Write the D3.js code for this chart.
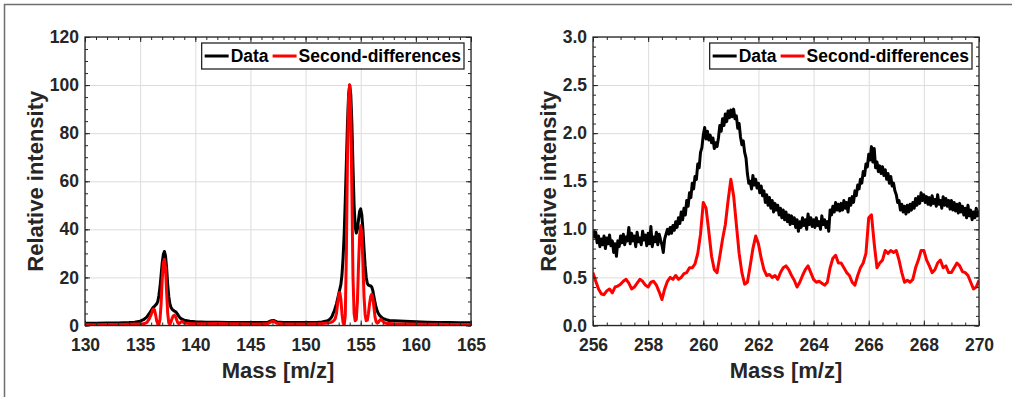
<!DOCTYPE html>
<html>
<head>
<meta charset="utf-8">
<script src="https://cdn.jsdelivr.net/npm/d3@7"></script>
<style>
  body { margin: 0; background: #fff; }
  svg { display: block; }
</style>
</head>
<body>
<div id="chart"></div>
<script>
// ---- left panel: m/z 130-165 ----
const massLeft = [
  130, 131, 132, 133, 134, 134.5, 135, 135.3, 135.6, 135.8,
  136.0, 136.1, 136.2, 136.3, 136.4, 136.5, 136.6, 136.7, 136.8, 136.9,
  137.0, 137.1, 137.2, 137.3, 137.4, 137.5, 137.6, 137.7, 137.8, 137.9,
  138.0, 138.1, 138.2, 138.3, 138.4, 138.5, 138.6, 138.7, 138.8, 138.9, 139.0,
  139.5, 140, 141, 142, 143, 144, 145, 146, 146.6, 146.9, 147.1, 147.4, 148, 149, 150, 151, 151.5, 152,
  152.2, 152.3, 152.4, 152.5, 152.6, 152.7, 152.8, 152.9,
  153.0, 153.1, 153.2, 153.3, 153.4, 153.5, 153.6, 153.7, 153.8, 153.9,
  154.0, 154.1, 154.2, 154.3, 154.4, 154.5, 154.6, 154.7, 154.8, 154.9,
  155.0, 155.1, 155.2, 155.3, 155.4, 155.5, 155.6, 155.7, 155.8, 155.9,
  156.0, 156.1, 156.2, 156.3, 156.4, 156.5, 156.6, 156.7, 156.8, 156.9,
  157.0, 157.1, 157.2, 157.3, 157.4, 157.5, 157.6,
  158, 159, 160, 161, 162, 163, 164, 165
];
const dataLeft = [
  0.9, 0.9, 1.0, 1.0, 1.2, 1.4, 1.8, 2.4, 3.5, 4.8,
  6.2, 7.0, 7.6, 8.0, 8.5, 9.0, 10.0, 12.5, 16, 21,
  26, 29.5, 30.8, 29, 24, 17, 12, 9, 7.5, 6.8,
  6.3, 6.0, 5.8, 5.3, 4.6, 3.9, 3.3, 2.9, 2.6, 2.4, 2.2,
  1.8, 1.6, 1.4, 1.4, 1.3, 1.3, 1.2, 1.2, 1.4, 2.0, 2.1, 1.5, 1.3, 1.2, 1.2, 1.3, 1.5, 2.0,
  2.6, 3.1, 3.8, 5.0, 6.0, 7.5, 9.0, 11,
  13, 15, 17, 21, 28, 38, 52, 68, 84, 96,
  100, 96, 84, 66, 50, 41, 38.5, 40, 44, 47.5,
  48.5, 46, 40, 32, 25, 20, 17.5, 16.8, 16.5, 16.5,
  16, 14.5, 12, 9.5, 7.5, 6.0, 5.0, 4.3, 3.8, 3.4,
  3.0, 2.8, 2.6, 2.4, 2.3, 2.2, 2.1,
  2.0, 1.8, 1.6, 1.4, 1.3, 1.2, 1.1, 1.1
];
const secondDiffLeft = [
  0.3, 0.3, 0.4, 0.4, 0.5, 0.6, 0.6, 0.7, 1.2, 2.5,
  4.5, 6.0, 6.8, 6.5, 4.5, 2.0, 0.6, 0.4, 2.5, 9,
  19, 26, 27.5, 24, 14, 5, 1.0, 0.6, 1.5, 3.0,
  4.0, 4.3, 3.8, 2.5, 1.2, 0.8, 1.0, 1.5, 1.7, 1.4, 1.0,
  0.8, 0.7, 0.7, 0.8, 0.7, 0.7, 0.6, 0.6, 0.8, 1.6, 1.8, 0.9, 0.6, 0.6, 0.6, 0.7, 0.8, 1.0,
  1.2, 1.3, 1.5, 1.8, 2.2, 3.0, 5.0, 9.0,
  12.5, 13.8, 11, 5, 1.2, 0.3, 4, 30, 70, 95,
  100, 88, 55, 20, 5, 2.0, 2.5, 10, 25, 37,
  41.5, 38, 26, 12, 4.5, 2.0, 2.2, 5, 9, 12,
  13, 11.5, 7.5, 3.5, 1.5, 1.0, 1.3, 2.0, 2.5, 2.3,
  1.8, 1.4, 1.0, 0.9, 0.8, 0.8, 0.8,
  0.7, 0.6, 0.6, 0.5, 0.5, 0.4, 0.4, 0.4
];
const xTicksLeft = [130, 135, 140, 145, 150, 155, 160, 165];
const yTicksLeft = [0, 20, 40, 60, 80, 100, 120];

// ---- right panel: m/z 256-270 ----
// data sampled every 0.05, second differences every 0.1
const dataRight = [
  1.00, 0.92, 0.97, 0.86, 0.93, 0.82, 0.90, 0.84, 0.93, 0.80, 0.91, 0.85, 0.94, 0.83, 0.88, 0.76, 0.85, 0.72, 0.88, 0.82,
  0.93, 0.86, 0.95, 0.84, 0.92, 0.88, 1.02, 0.85, 0.96, 0.88, 0.93, 0.82, 0.97, 0.87, 0.91, 0.84, 0.98, 0.89, 0.94, 0.83,
  0.96, 0.85, 1.03, 0.82, 0.92, 0.87, 0.97, 0.84, 0.95, 0.89, 0.84, 0.76, 0.90, 0.95, 1.00, 0.95, 1.02, 0.96, 1.04, 0.99,
  1.08, 1.02, 1.12, 1.06, 1.18, 1.10, 1.22, 1.15, 1.30, 1.24, 1.38, 1.33, 1.48, 1.42, 1.55, 1.52, 1.68, 1.64, 1.80, 1.85,
  1.98, 2.06, 1.94, 2.02, 1.93, 1.98, 1.90, 1.95, 1.84, 1.90, 1.86, 1.95, 2.08, 2.02, 2.15, 2.08, 2.20, 2.12, 2.23, 2.16,
  2.24, 2.17, 2.25, 2.15, 2.18, 2.05, 2.10, 1.96, 1.88, 1.92, 1.80, 1.74, 1.58, 1.48, 1.50, 1.42, 1.56, 1.46, 1.52, 1.43,
  1.48, 1.38, 1.45, 1.35, 1.40, 1.28, 1.36, 1.25, 1.33, 1.22, 1.30, 1.18, 1.27, 1.20, 1.25, 1.15, 1.22, 1.12, 1.20, 1.10,
  1.18, 1.08, 1.15, 1.05, 1.14, 1.06, 1.12, 1.02, 1.10, 0.98, 1.08, 1.02, 1.12, 1.04, 1.10, 1.00, 1.16, 1.05, 1.12, 1.03,
  1.10, 1.02, 1.12, 1.04, 1.08, 1.00, 1.14, 1.05, 1.10, 1.02, 1.08, 0.98, 1.20, 1.15, 1.24, 1.18, 1.28, 1.20, 1.26, 1.19,
  1.27, 1.20, 1.30, 1.22, 1.28, 1.18, 1.32, 1.25, 1.34, 1.28, 1.40, 1.35, 1.46, 1.42, 1.52, 1.48, 1.60, 1.56, 1.68, 1.65,
  1.78, 1.72, 1.86, 1.70, 1.84, 1.64, 1.70, 1.60, 1.66, 1.58, 1.65, 1.56, 1.62, 1.52, 1.58, 1.48, 1.55, 1.45, 1.48, 1.40,
  1.36, 1.28, 1.30, 1.20, 1.26, 1.18, 1.24, 1.16, 1.25, 1.18, 1.26, 1.20, 1.28, 1.22, 1.32, 1.25, 1.34, 1.27, 1.38, 1.30,
  1.36, 1.28, 1.34, 1.26, 1.33, 1.25, 1.35, 1.27, 1.31, 1.24, 1.36, 1.26, 1.30, 1.22, 1.34, 1.25, 1.32, 1.24, 1.30, 1.21,
  1.30, 1.20, 1.28, 1.19, 1.26, 1.17, 1.27, 1.18, 1.24, 1.15, 1.22, 1.12, 1.25, 1.14, 1.20, 1.10, 1.18, 1.12, 1.22, 1.14,
  1.20
];
const secondDiffRight = [
  0.55, 0.46, 0.38, 0.33, 0.32, 0.36, 0.38, 0.34, 0.40, 0.41,
  0.43, 0.46, 0.48, 0.44, 0.38, 0.40, 0.44, 0.48, 0.46, 0.42,
  0.40, 0.45, 0.46, 0.42, 0.35, 0.27, 0.38, 0.46, 0.50, 0.48,
  0.52, 0.48, 0.50, 0.54, 0.55, 0.60, 0.60, 0.64, 0.75, 0.95,
  1.28, 1.22, 0.98, 0.72, 0.58, 0.55, 0.72, 0.90, 1.05, 1.30,
  1.52, 1.35, 1.05, 0.75, 0.55, 0.43, 0.45, 0.62, 0.80, 0.93,
  0.85, 0.70, 0.58, 0.52, 0.53, 0.50, 0.52, 0.48, 0.55, 0.60,
  0.62, 0.58, 0.52, 0.47, 0.40, 0.45, 0.52, 0.58, 0.62, 0.55,
  0.48, 0.45, 0.46, 0.44, 0.42, 0.45, 0.60, 0.70, 0.73, 0.65,
  0.65, 0.60, 0.55, 0.52, 0.45, 0.42, 0.52, 0.60, 0.65, 0.75,
  1.12, 1.15, 0.85, 0.60, 0.65, 0.68, 0.78, 0.75, 0.78, 0.76,
  0.78, 0.68, 0.55, 0.45, 0.47, 0.45, 0.48, 0.60, 0.68, 0.78,
  0.78, 0.68, 0.62, 0.55, 0.58, 0.65, 0.68, 0.60, 0.62, 0.55,
  0.55, 0.60, 0.65, 0.62, 0.56, 0.55, 0.52, 0.45, 0.38, 0.40,
  0.47
];
const massRightData = dataRight.map((d, i) => 256 + i * 0.05);
const massRightSD = secondDiffRight.map((d, i) => 256 + i * 0.1);
const xTicksRight = [256, 258, 260, 262, 264, 266, 268, 270];
const yTicksRight = [0, 0.5, 1.0, 1.5, 2.0, 2.5, 3.0];

const seriesNames = ["Data", "Second-differences"];
const seriesColors = ["#000000", "#ff0000"];

const FONT = '"Liberation Sans", Arial, Helvetica, sans-serif';
const INK = "#262626";

const svg = d3.select("#chart").append("svg")
  .attr("width", 1015)
  .attr("height", 397)
  .attr("font-family", FONT)
  .attr("font-weight", "bold");

// figure frame (top and left edges visible)
svg.append("path")
  .attr("d", "M4.5,397V4.5H1012")
  .attr("fill", "none")
  .attr("stroke", "#6e6e6e")
  .attr("stroke-width", 1.5);

function panel(o) {
  const x = d3.scaleLinear().domain(o.xDomain).range([o.left, o.right]);
  const y = d3.scaleLinear().domain(o.yDomain).range([o.bottom, o.top]);
  const h = o.bottom - o.top;
  const w = o.right - o.left;
  const g = svg.append("g");

  // grid
  g.append("g")
    .attr("transform", `translate(0,${o.bottom})`)
    .call(d3.axisBottom(x).tickValues(o.xTicks).tickSize(-h).tickFormat(""))
    .call(s => s.select(".domain").remove())
    .call(s => s.selectAll("line").attr("stroke", "#dcdcdc"));
  g.append("g")
    .attr("transform", `translate(${o.left},0)`)
    .call(d3.axisLeft(y).tickValues(o.yTicks).tickSize(-w).tickFormat(""))
    .call(s => s.select(".domain").remove())
    .call(s => s.selectAll("line").attr("stroke", "#dcdcdc"));

  // lines
  const clipId = "clip" + o.id;
  svg.append("clipPath").attr("id", clipId)
    .append("rect").attr("x", o.left).attr("y", o.top).attr("width", w).attr("height", h);
  const lines = g.append("g").attr("clip-path", `url(#${clipId})`);
  o.series.forEach((s, i) => {
    const pts = s.mass.map((m, k) => [m, s.values[k]]);
    lines.append("path")
      .datum(pts)
      .attr("fill", "none")
      .attr("stroke", seriesColors[i])
      .attr("stroke-width", 3)
      .attr("stroke-linejoin", "round")
      .attr("d", d3.line().x(d => x(d[0])).y(d => y(d[1])));
  });

  // ticks (inward, mirrored) + minor ticks
  const styleAxis = s => {
    s.select(".domain").remove();
    s.selectAll("line").attr("stroke", INK);
    s.attr("font-family", FONT).attr("font-size", 17.5).attr("font-weight", "bold");
    s.selectAll("text").attr("fill", INK);
  };
  g.append("g").attr("transform", `translate(0,${o.bottom})`)
    .call(d3.axisBottom(x).tickValues(o.xTicks).tickSizeInner(-5).tickSizeOuter(0).tickPadding(13).tickFormat(o.xFormat))
    .call(styleAxis);
  g.append("g").attr("transform", `translate(0,${o.top})`)
    .call(d3.axisTop(x).tickValues(o.xTicks).tickSizeInner(-5).tickSizeOuter(0).tickFormat(""))
    .call(styleAxis);
  g.append("g").attr("transform", `translate(${o.left},0)`)
    .call(d3.axisLeft(y).tickValues(o.yTicks).tickSizeInner(-5).tickSizeOuter(0).tickPadding(6).tickFormat(o.yFormat))
    .call(styleAxis);
  g.append("g").attr("transform", `translate(${o.right},0)`)
    .call(d3.axisRight(y).tickValues(o.yTicks).tickSizeInner(-5).tickSizeOuter(0).tickFormat(""))
    .call(styleAxis);
  g.append("g").attr("transform", `translate(0,${o.bottom})`)
    .call(d3.axisBottom(x).tickValues(o.xMinor).tickSize(-3).tickFormat("")).call(styleAxis);
  g.append("g").attr("transform", `translate(0,${o.top})`)
    .call(d3.axisTop(x).tickValues(o.xMinor).tickSize(-3).tickFormat("")).call(styleAxis);
  g.append("g").attr("transform", `translate(${o.left},0)`)
    .call(d3.axisLeft(y).tickValues(o.yMinor).tickSize(-3).tickFormat("")).call(styleAxis);
  g.append("g").attr("transform", `translate(${o.right},0)`)
    .call(d3.axisRight(y).tickValues(o.yMinor).tickSize(-3).tickFormat("")).call(styleAxis);

  // box
  g.append("rect")
    .attr("x", o.left).attr("y", o.top).attr("width", w).attr("height", h)
    .attr("fill", "none").attr("stroke", INK).attr("stroke-width", 1.3);

  // axis labels
  g.append("text")
    .attr("x", (o.left + o.right) / 2).attr("y", 378)
    .attr("text-anchor", "middle").attr("font-size", 22).attr("fill", INK)
    .text("Mass [m/z]");
  g.append("text")
    .attr("transform", `translate(${o.yLabelX},${(o.top + o.bottom) / 2}) rotate(-90)`)
    .attr("text-anchor", "middle").attr("font-size", 22).attr("fill", INK)
    .text("Relative intensity");

  // legend
  const lg = g.append("g");
  const box = lg.append("rect").attr("fill", "#fff").attr("stroke", INK).attr("stroke-width", 1.3);
  let cx = 3;
  const items = [];
  seriesNames.forEach((name, i) => {
    lg.append("line").attr("x1", cx).attr("x2", cx + 24).attr("y1", 13).attr("y2", 13)
      .attr("stroke", seriesColors[i]).attr("stroke-width", 3);
    const t = lg.append("text").attr("x", cx + 26).attr("y", 19).attr("font-size", 17.5)
      .attr("fill", "#000").text(name);
    cx += 26 + t.node().getComputedTextLength() + 4;
  });
  const lw = cx - 1;
  box.attr("x", 0).attr("y", 0).attr("width", lw).attr("height", 26);
  lg.attr("transform", `translate(${o.right - 7 - lw},${o.top + 6})`);
}

panel({
  id: "L", left: 85, right: 471, top: 37, bottom: 325.5,
  xDomain: [130, 165], yDomain: [0, 120],
  xTicks: xTicksLeft, yTicks: yTicksLeft,
  xMinor: d3.range(130, 166, 1), yMinor: d3.range(0, 121, 5),
  xFormat: d3.format("d"), yFormat: d3.format("d"),
  yLabelX: 43,
  series: [
    { mass: massLeft, values: dataLeft },
    { mass: massLeft, values: secondDiffLeft }
  ]
});

panel({
  id: "R", left: 593, right: 979, top: 37, bottom: 325.5,
  xDomain: [256, 270], yDomain: [0, 3],
  xTicks: xTicksRight, yTicks: yTicksRight,
  xMinor: d3.range(256, 270.01, 0.5), yMinor: d3.range(0, 3.01, 0.1),
  xFormat: d3.format("d"), yFormat: d3.format(".1f"),
  yLabelX: 556,
  series: [
    { mass: massRightData, values: dataRight },
    { mass: massRightSD, values: secondDiffRight }
  ]
});
</script>
</body>
</html>
